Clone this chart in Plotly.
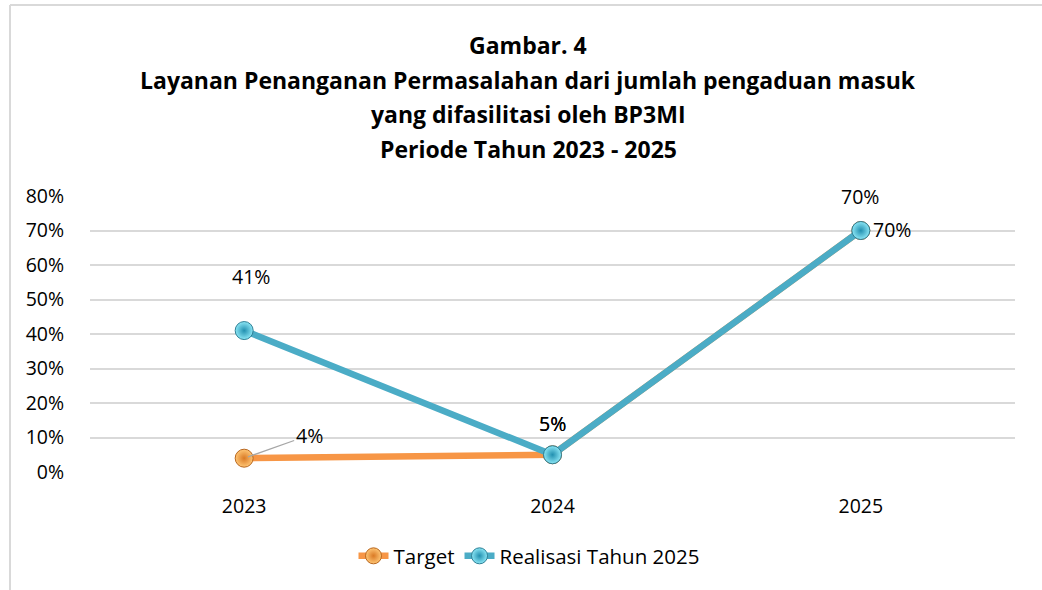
import plotly.graph_objects as go

years = ["2023", "2024", "2025"]
target = [0.04, 0.05, 0.70]
realisasi = [0.41, 0.05, 0.70]
yticks = [0, 0.1, 0.2, 0.3, 0.4, 0.5, 0.6, 0.7, 0.8]
ytick_labels = ["0%", "10%", "20%", "30%", "40%", "50%", "60%", "70%", "80%"]
title_lines = [
    "Gambar. 4",
    "Layanan Penanganan Permasalahan dari jumlah pengaduan masuk",
    "yang difasilitasi oleh BP3MI",
    "Periode Tahun 2023 - 2025",
]

FONT = "Open Sans"
orange = "#F79646"
blue = "#4BACC6"

W, H = 1042, 590
ML, MR, MT, MB = 90, 27, 196, 118
PH = H - MT - MB
PW = W - ML - MR

fig = go.Figure()
fig.add_trace(go.Scatter(
    x=years, y=target, name="Target", mode="lines+markers",
    line=dict(color=orange, width=6.5),
    marker=dict(size=18, color="#FFC675", line=dict(color="#B8661E", width=1),
                gradient=dict(type="radial", color="#DA7A25")),
))
fig.add_trace(go.Scatter(
    x=years, y=realisasi, name="Realisasi Tahun 2025", mode="lines+markers",
    line=dict(color=blue, width=6.5),
    marker=dict(size=18, color="#8BE6F5", line=dict(color="#2D7F95", width=1),
                gradient=dict(type="radial", color="#2290B0")),
))

LBL = 19.5
ann = []
lab = dict(font=dict(family=FONT, size=LBL, color="#000000"), showarrow=False, xref="x", yref="y")
# Realisasi labels (above points)
ann.append(dict(x=0, y=realisasi[0], text=f"{realisasi[0]*100:.0f}%", yshift=54, xshift=7, **lab))
ann.append(dict(x=1, y=realisasi[1], text=f"{realisasi[1]*100:.0f}%", yshift=31, **lab))
ann.append(dict(x=2, y=realisasi[2], text=f"{realisasi[2]*100:.0f}%", yshift=34, xshift=-1, **lab))
# Target labels
ann.append(dict(x=0, y=target[0], text=f"{target[0]*100:.0f}%", showarrow=True,
                arrowhead=0, arrowwidth=1.3, arrowcolor="#A6A6A6", ax=65, ay=-23,
                standoff=4, font=dict(family=FONT, size=LBL, color="#000000"),
                xref="x", yref="y"))
ann.append(dict(x=1, y=target[1], text=f"{target[1]*100:.0f}%", yshift=31, **lab))
ann.append(dict(x=2, y=target[2], text=f"{target[2]*100:.0f}%", xshift=31, yshift=1, **lab))

# Title lines
title_y = [45, 80, 114, 149]
for line, py in zip(title_lines, title_y):
    ann.append(dict(text=f"<b>{line}</b>", xref="paper", yref="paper",
                    x=(528 - ML) / PW, y=1 + (MT - py) / PH,
                    xanchor="center", yanchor="middle", showarrow=False,
                    font=dict(family=FONT, size=23, color="#000000")))

fig.update_layout(
    width=W, height=H,
    paper_bgcolor="white", plot_bgcolor="white",
    margin=dict(l=ML, r=MR, t=MT, b=MB),
    font=dict(family=FONT, size=19, color="#000000"),
    xaxis=dict(type="category", range=[-0.5, 2.5], showgrid=False, showline=False,
               ticks="outside", ticklen=17, tickcolor="rgba(0,0,0,0)",
               tickfont=dict(family=FONT, size=19.5)),
    yaxis=dict(range=[0, 0.8], tickvals=yticks, ticktext=ytick_labels,
               showgrid=True, gridcolor="#D9D9D9", gridwidth=1.6, zeroline=False,
               ticks="outside", ticklen=21, tickcolor="rgba(0,0,0,0)",
               tickfont=dict(family=FONT, size=19.5)),
    legend=dict(orientation="h", x=(529 - ML) / PW, xanchor="center", y=-(556 - (H - MB)) / PH,
                yanchor="middle", font=dict(family=FONT, size=20.5)),
    annotations=ann,
    showlegend=True,
)
# Chart frame (left and top edges)
fig.add_shape(type="line", xref="paper", yref="paper",
              x0=(10 - ML) / PW, x1=(10 - ML) / PW,
              y0=-(MB) / PH, y1=1 + (MT - 5) / PH, line=dict(color="#D9D9D9", width=2))
fig.add_shape(type="line", xref="paper", yref="paper",
              x0=(10 - ML) / PW, x1=1 + MR / PW,
              y0=1 + (MT - 5) / PH, y1=1 + (MT - 5) / PH, line=dict(color="#D9D9D9", width=2))

fig.write_html("out.html", config={"displayModeBar": False},
               post_script="document.body.style.margin='0px';")
